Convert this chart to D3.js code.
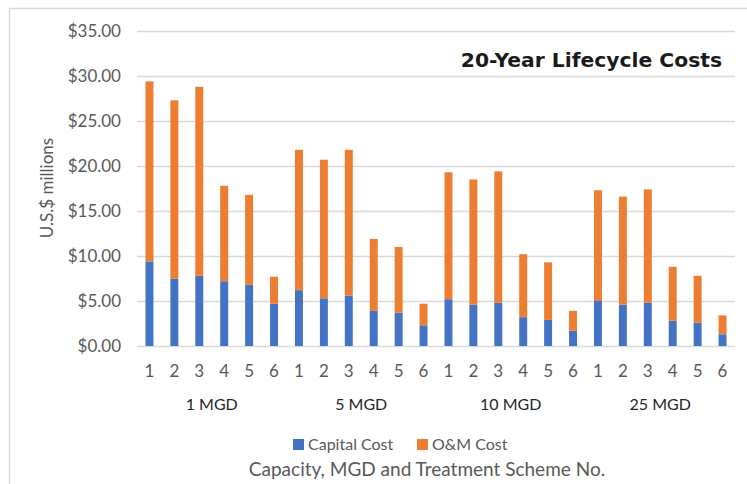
<!DOCTYPE html>
<html>
<head>
<meta charset="utf-8">
<script src="https://cdn.jsdelivr.net/npm/d3@7"></script>
<style>
  html, body { margin: 0; padding: 0; background: #fff; }
  svg { display: block; }
</style>
</head>
<body>
<svg id="chart" width="747" height="484"></svg>
<script>
// data
const groups = ["1 MGD", "5 MGD", "10 MGD", "25 MGD"];
const schemes = ["1", "2", "3", "4", "5", "6"];
const capitalCost = [9.4, 7.5, 7.8, 7.2, 6.8, 4.7,
                     6.2, 5.3, 5.6, 3.9, 3.7, 2.3,
                     5.2, 4.6, 4.8, 3.2, 2.9, 1.7,
                     5.0, 4.6, 4.8, 2.8, 2.6, 1.3];
const omCost = [20.0, 19.8, 21.0, 10.6, 10.0, 3.0,
                15.6, 15.4, 16.2, 8.0, 7.3, 2.4,
                14.1, 13.9, 14.6, 7.0, 6.4, 2.2,
                12.3, 12.0, 12.6, 6.0, 5.2, 2.1];
const yTicks = [0, 5, 10, 15, 20, 25, 30, 35];
const seriesNames = ["Capital Cost", "O&M Cost"];
const colors = ["#4472C4", "#ED7D31"];

const svg = d3.select("#chart");
const plot = { left: 137, right: 735, top: 31, bottom: 346 };

// one row per bar
const rows = [];
groups.forEach((g, gi) => {
    schemes.forEach((s, si) => {
        const i = gi * schemes.length + si;
        rows.push({ key: g + "-" + s, group: g, scheme: s, cap: capitalCost[i], om: omCost[i] });
    });
});

const x = d3.scaleBand()
    .domain(rows.map((d) => d.key))
    .range([plot.left, plot.right])
    .paddingInner(0.68)
    .paddingOuter(0.34);
const y = d3.scaleLinear().domain([0, 35]).range([plot.bottom, plot.top]);

// frame of the slide
svg.append("path")
    .attr("d", "M9.5,484V8.5H747")
    .attr("fill", "none")
    .attr("stroke", "#d9d9d9")
    .attr("stroke-width", 1.5);

// gridlines + y labels
const yAxis = svg.append("g")
    .attr("transform", `translate(${plot.left},0)`)
    .call(d3.axisLeft(y).tickValues(yTicks)
        .tickSize(-(plot.right - plot.left))
        .tickPadding(16)
        .tickFormat((d) => "$" + d3.format(".2f")(d)));
yAxis.select(".domain").remove();
yAxis.selectAll(".tick line").attr("stroke", "#d9d9d9").attr("stroke-width", 1.5);
yAxis.selectAll(".tick text")
    .attr("fill", "#595959")
    .style("font-family", "Lato, sans-serif")
    .style("font-size", "17px");

// stacked bars
const stack = d3.stack().keys(["cap", "om"]);
const layers = stack(rows);
svg.append("g").selectAll("g")
    .data(layers)
    .join("g")
    .attr("fill", (d, i) => colors[i])
    .selectAll("rect")
    .data((d) => d)
    .join("rect")
    .attr("x", (d) => x(d.data.key))
    .attr("width", x.bandwidth())
    .attr("y", (d) => y(d[1]))
    .attr("height", (d) => y(d[0]) - y(d[1]));

// scheme numbers
svg.append("g").selectAll("text")
    .data(rows)
    .join("text")
    .attr("x", (d) => x(d.key) + x.bandwidth() / 2)
    .attr("y", 377)
    .attr("text-anchor", "middle")
    .attr("fill", "#595959")
    .style("font-family", "Lato, sans-serif")
    .style("font-size", "17px")
    .text((d) => d.scheme);

// capacity group labels
svg.append("g").selectAll("text")
    .data(groups)
    .join("text")
    .attr("x", (g) => {
        const keys = rows.filter((d) => d.group === g).map((d) => d.key);
        return (x(keys[0]) + x(keys[keys.length - 1]) + x.bandwidth()) / 2;
    })
    .attr("y", 410)
    .attr("text-anchor", "middle")
    .attr("fill", "#262626")
    .style("font-family", "Lato, sans-serif")
    .style("font-size", "16px")
    .text((g) => g);

// legend
const legend = svg.append("g").attr("transform", "translate(293,439)");
const legendX = [0, 124];
seriesNames.forEach((name, i) => {
    legend.append("rect")
        .attr("x", legendX[i])
        .attr("y", 0)
        .attr("width", 11)
        .attr("height", 11)
        .attr("fill", colors[i]);
    legend.append("text")
        .attr("x", legendX[i] + 15)
        .attr("y", 11)
        .attr("fill", "#595959")
        .style("font-family", "Lato, sans-serif")
        .style("font-size", "16px")
        .text(name);
});

// axis titles
svg.append("text")
    .attr("x", 427)
    .attr("y", 476)
    .attr("text-anchor", "middle")
    .attr("fill", "#595959")
    .style("font-family", "Lato, sans-serif")
    .style("font-size", "19px")
    .text("Capacity, MGD and Treatment Scheme No.");

svg.append("text")
    .attr("transform", "translate(53,188) rotate(-90)")
    .attr("text-anchor", "middle")
    .attr("fill", "#595959")
    .style("font-family", "Lato, sans-serif")
    .style("font-size", "17px")
    .text("U.S.$ millions");

// chart title
svg.append("text")
    .attr("x", 722)
    .attr("y", 67)
    .attr("text-anchor", "end")
    .attr("fill", "#1a1a1a")
    .attr("font-family", "DejaVu Sans, Verdana, sans-serif")
    .attr("font-weight", "bold")
    .attr("font-size", "20.3px")
    .text("20-Year Lifecycle Costs");
</script>
</body>
</html>
